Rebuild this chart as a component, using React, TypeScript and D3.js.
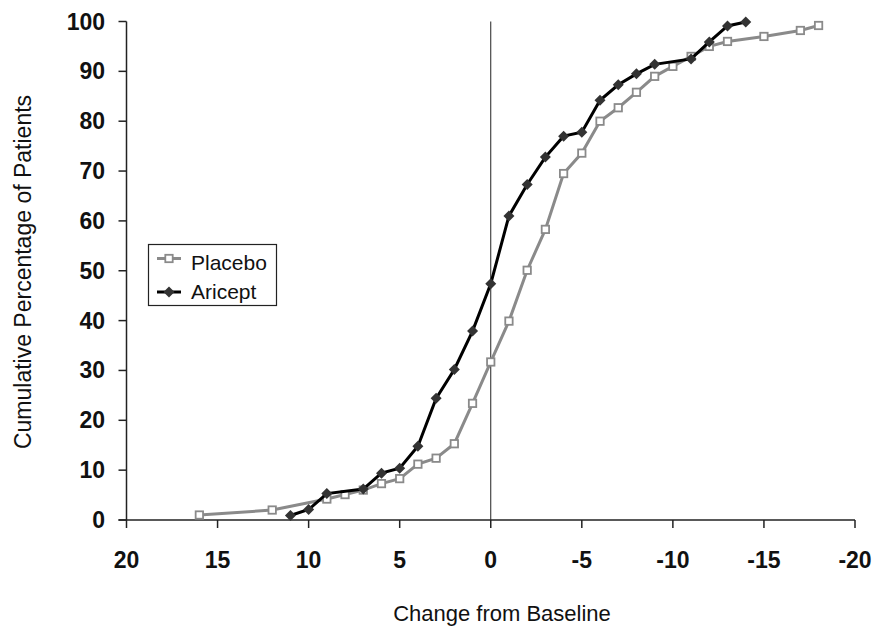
import * as React from 'react';
import { scaleLinear, line } from 'd3';

// change from baseline (x) and cumulative % of patients (y)
const placeboX = [16, 12, 9, 8, 7, 6, 5, 4, 3, 2, 1, 0, -1, -2, -3, -4, -5, -6, -7, -8, -9, -10, -11, -12, -13, -15, -17, -18];
const placeboY = [1.0, 2.0, 4.2, 5.1, 6.0, 7.3, 8.3, 11.2, 12.4, 15.3, 23.4, 31.7, 39.9, 50.1, 58.3, 69.5, 73.6, 80.0, 82.7, 85.8, 89.0, 91.0, 93.0, 95.0, 96.0, 97.0, 98.2, 99.2];

const ariceptX = [11, 10, 9, 7, 6, 5, 4, 3, 2, 1, 0, -1, -2, -3, -4, -5, -6, -7, -8, -9, -11, -12, -13, -14];
const ariceptY = [0.9, 2.1, 5.3, 6.2, 9.4, 10.4, 14.8, 24.4, 30.2, 37.9, 47.4, 61.0, 67.3, 72.8, 77.0, 77.8, 84.2, 87.3, 89.5, 91.4, 92.5, 95.9, 99.1, 99.9];

const xTicks = [20, 15, 10, 5, 0, -5, -10, -15, -20];
const yTicks = [0, 10, 20, 30, 40, 50, 60, 70, 80, 90, 100];

const W = 877;
const H = 629;
const margin = { left: 126.5, right: 22, top: 21.5, bottom: 109 };

const xScale = scaleLinear().domain([20, -20]).range([margin.left, W - margin.right]);
const yScale = scaleLinear().domain([0, 100]).range([H - margin.bottom, margin.top]);

type Pt = [number, number];
const toPts = (xs: number[], ys: number[]): Pt[] => xs.map((x, i) => [x, ys[i]]);
const path = line<Pt>().x(d => xScale(d[0])).y(d => yScale(d[1]));

const placebo = toPts(placeboX, placeboY);
const aricept = toPts(ariceptX, ariceptY);

const font = '"Liberation Sans", Arial, sans-serif';
const gray = '#8a8a8a';

const Square = ({ cx, cy }: { cx: number; cy: number }) => (
    <rect x={cx - 3.7} y={cy - 3.7} width={7.4} height={7.4} fill="#fff" stroke={gray} strokeWidth={1.8} />
);

const Diamond = ({ cx, cy }: { cx: number; cy: number }) => (
    <path d={`M${cx},${cy - 5.5}L${cx + 5.5},${cy}L${cx},${cy + 5.5}L${cx - 5.5},${cy}Z`} fill="#333" />
);

export default function App() {
    const y0 = yScale(0);
    const x0 = xScale(0);
    return (
        <svg width={W} height={H} style={{ position: 'absolute', left: 0, top: 0, background: '#fff' }} fontFamily={font}>
            {/* zero reference line */}
            <line x1={x0} x2={x0} y1={yScale(100)} y2={y0} stroke="#222" strokeWidth={1} />

            {/* axes */}
            <line x1={margin.left} x2={margin.left} y1={yScale(100)} y2={y0} stroke="#222" strokeWidth={1.5} />
            <line x1={margin.left - 8} x2={xScale(-20)} y1={y0} y2={y0} stroke="#222" strokeWidth={1.5} />
            {yTicks.map(t => (
                <g key={t}>
                    <line x1={margin.left - 8} x2={margin.left} y1={yScale(t)} y2={yScale(t)} stroke="#222" strokeWidth={1.5} />
                    <text x={105} y={yScale(t) + 8} textAnchor="end" fontSize={23} fontWeight="bold" fill="#111">{t}</text>
                </g>
            ))}
            {xTicks.map(t => (
                <g key={t}>
                    <line x1={xScale(t)} x2={xScale(t)} y1={y0} y2={y0 + 8} stroke="#222" strokeWidth={1.5} />
                    <text x={xScale(t)} y={568} textAnchor="middle" fontSize={23} fontWeight="bold" fill="#111">{t}</text>
                </g>
            ))}

            <text x={502} y={621} textAnchor="middle" fontSize={22} fill="#111">Change from Baseline</text>
            <text transform={`translate(31,${272}) rotate(-90)`} textAnchor="middle" fontSize={23} fill="#111">Cumulative Percentage of Patients</text>

            {/* series */}
            <path d={path(placebo) ?? ''} fill="none" stroke={gray} strokeWidth={3} />
            {placebo.map((d, i) => <Square key={i} cx={xScale(d[0])} cy={yScale(d[1])} />)}
            <path d={path(aricept) ?? ''} fill="none" stroke="#000" strokeWidth={3} />
            {aricept.map((d, i) => <Diamond key={i} cx={xScale(d[0])} cy={yScale(d[1])} />)}

            {/* legend */}
            <rect x={148.5} y={244.5} width={128} height={61} fill="#fff" stroke="#222" strokeWidth={1.2} />
            <line x1={157} x2={181} y1={258.5} y2={258.5} stroke={gray} strokeWidth={3} />
            <Square cx={169} cy={258.5} />
            <text x={191} y={270} fontSize={21} fill="#111">Placebo</text>
            <line x1={157} x2={181} y1={292} y2={292} stroke="#000" strokeWidth={3} />
            <Diamond cx={169} cy={292} />
            <text x={191} y={299} fontSize={21} fill="#111">Aricept</text>
        </svg>
    );
}
